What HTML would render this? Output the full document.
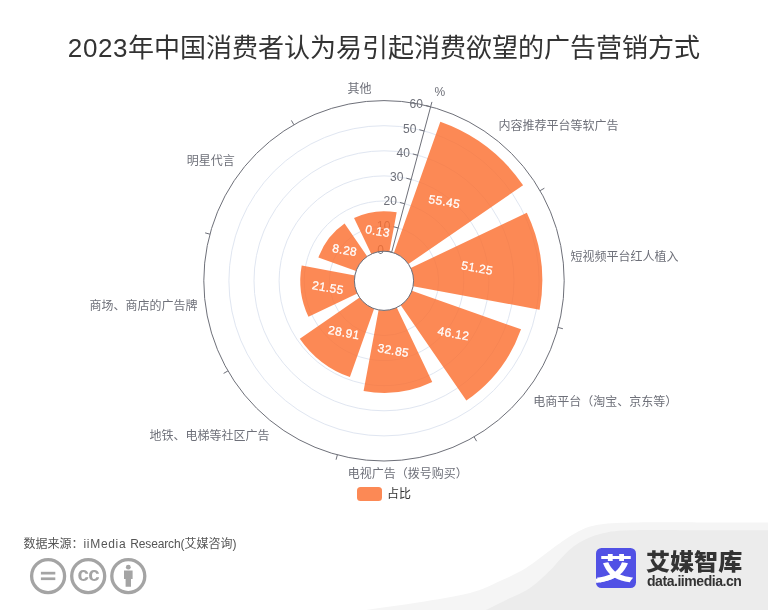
<!DOCTYPE html>
<html lang="zh-CN">
<head>
<meta charset="utf-8">
<title>2023年中国消费者认为易引起消费欲望的广告营销方式</title>
<style>
html,body{margin:0;padding:0;background:#fff;}
body{width:768px;height:610px;position:relative;overflow:hidden;font-family:"Liberation Sans","Noto Sans CJK SC",sans-serif;}
#chart{position:absolute;left:0;top:0;}
#chart text{font-family:"Liberation Sans","Noto Sans CJK SC",sans-serif;}
#wave{position:absolute;left:0;top:0;}
h1{position:absolute;left:0;top:29px;width:768px;margin:0;text-align:center;font-size:26px;line-height:38px;font-weight:400;color:#333;white-space:nowrap;}
.legend{position:absolute;left:357px;top:487px;height:14px;display:flex;align-items:center;}
.legend i{display:block;width:25px;height:14px;border-radius:3.5px;background:#FC8955;}
.legend span{margin-left:5px;font-size:12px;line-height:14px;color:#333;}
.src{position:absolute;left:23.5px;top:535px;font-size:12px;line-height:18px;color:#555;white-space:nowrap;}
.cc{position:absolute;left:28px;top:556px;}
.logo{position:absolute;left:596px;top:548px;width:40px;height:40px;}
.brand{position:absolute;left:646px;top:548px;font-size:22.6px;line-height:30px;font-weight:900;transform:scaleX(1.065);transform-origin:0 0;color:#333;white-space:nowrap;letter-spacing:0;}
.url{position:absolute;left:647px;top:572px;font-size:14px;line-height:18px;font-weight:700;color:#333;white-space:nowrap;letter-spacing:-0.45px;}
</style>
</head>
<body>
<svg id="wave" width="768" height="610" viewBox="0 0 768 610">
<path d="M310.0 618.0C319.3 616.7 348.0 612.6 366.0 610.0C384.0 607.4 400.7 605.3 418.0 602.5C435.3 599.7 456.3 596.6 470.0 593.0C483.7 589.4 490.7 585.2 500.0 581.0C509.3 576.8 517.2 573.4 526.0 568.0C534.8 562.6 543.7 554.5 552.5 548.4C561.3 542.3 570.8 535.3 578.7 531.3C586.6 527.3 590.1 526.0 600.0 524.5C609.9 523.0 621.3 522.8 638.0 522.5C654.7 522.2 689.7 522.5 700.0 522.5L768 522.5L768 622Z" fill="#f5f5f5"/>
<path d="M460.0 622.0C464.3 620.0 477.8 613.9 486.0 610.0C494.2 606.1 502.3 601.9 509.0 598.6C515.7 595.4 520.9 593.5 526.0 590.5C531.1 587.5 535.0 584.2 539.4 580.5C543.8 576.8 548.1 572.5 552.5 568.0C556.9 563.5 561.2 557.8 565.6 553.6C570.0 549.5 573.0 546.4 578.7 543.1C584.4 539.8 591.6 536.1 600.0 534.0C608.4 531.9 612.3 530.8 629.0 530.2C645.7 529.6 688.2 530.2 700.0 530.2L768 530.2L768 622Z" fill="#ececec"/>
</svg>
<svg id="chart" width="768" height="610" viewBox="0 0 768 610">
<g fill="none" stroke="#E0E6F1" stroke-width="1">
<circle cx="384" cy="280.8" r="29.6"/>
<circle cx="384" cy="280.8" r="54.7"/>
<circle cx="384" cy="280.8" r="79.8"/>
<circle cx="384" cy="280.8" r="104.9"/>
<circle cx="384" cy="280.8" r="130"/>
<circle cx="384" cy="280.8" r="155.1"/>
</g>
<g stroke="#6E7079" stroke-width="1" fill="none">
<line x1="391.66" y1="252.21" x2="430.64" y2="106.74"/>
<line x1="391.66" y1="252.21" x2="386.83" y2="250.91"/>
<line x1="398.16" y1="227.96" x2="393.33" y2="226.67"/>
<line x1="404.65" y1="203.72" x2="399.82" y2="202.43"/>
<line x1="411.15" y1="179.47" x2="406.32" y2="178.18"/>
<line x1="417.65" y1="155.23" x2="412.82" y2="153.94"/>
<line x1="424.14" y1="130.98" x2="419.31" y2="129.69"/>
<line x1="430.64" y1="106.74" x2="425.81" y2="105.45"/>
<circle cx="384" cy="280.8" r="180.2"/>
<line x1="430.64" y1="106.74" x2="431.93" y2="101.91"/>
<line x1="540.06" y1="190.7" x2="544.39" y2="188.2"/>
<line x1="558.06" y1="327.44" x2="562.89" y2="328.73"/>
<line x1="474.1" y1="436.86" x2="476.6" y2="441.19"/>
<line x1="337.36" y1="454.86" x2="336.07" y2="459.69"/>
<line x1="227.94" y1="370.9" x2="223.61" y2="373.4"/>
<line x1="209.94" y1="234.16" x2="205.11" y2="232.87"/>
<line x1="293.9" y1="124.74" x2="291.4" y2="120.41"/>
</g>
<g class="rl" fill="#6E7079" font-size="12" text-anchor="end">
<text x="383.93" y="250.14" dy="0.31em">0</text>
<text x="390.43" y="225.89" dy="0.31em">10</text>
<text x="396.93" y="201.65" dy="0.31em">20</text>
<text x="403.42" y="177.4" dy="0.31em">30</text>
<text x="409.92" y="153.16" dy="0.31em">40</text>
<text x="416.42" y="128.91" dy="0.31em">50</text>
<text x="422.91" y="104.67" dy="0.31em">60</text>
</g>
<text x="434.52" y="92.25" dy="0.28em" fill="#6E7079" font-size="12">%</text>
<g fill="#FB6F30" fill-opacity="0.82">
<path d="M393.88 252.9L440.34 121.7A168.78 168.78 0 0 1 523.1 185.2L408.39 264.03A29.6 29.6 0 0 0 393.88 252.9Z"/>
<path d="M410.72 268.06L526.82 212.68A158.24 158.24 0 0 1 539.59 309.64L413.1 286.19A29.6 29.6 0 0 0 410.72 268.06Z"/>
<path d="M411.9 290.68L521.02 329.32A145.36 145.36 0 0 1 466.33 400.6L400.77 305.19A29.6 29.6 0 0 0 411.9 290.68Z"/>
<path d="M396.74 307.52L432.24 381.94A112.05 112.05 0 0 1 363.58 390.98L378.61 309.9A29.6 29.6 0 0 0 396.74 307.52Z"/>
<path d="M374.12 308.7L349.9 377.1A102.16 102.16 0 0 1 299.8 338.67L359.61 297.57A29.6 29.6 0 0 0 374.12 308.7Z"/>
<path d="M357.28 293.54L308.46 316.83A83.69 83.69 0 0 1 301.71 265.55L354.9 275.41A29.6 29.6 0 0 0 357.28 293.54Z"/>
<path d="M356.1 270.92L318.39 257.57A69.6 69.6 0 0 1 344.58 223.44L367.23 256.41A29.6 29.6 0 0 0 356.1 270.92Z"/>
<path d="M371.26 254.08L354.04 217.98A69.6 69.6 0 0 1 396.68 212.37L389.39 251.7A29.6 29.6 0 0 0 371.26 254.08Z"/>
</g>
<circle cx="384" cy="280.8" r="29.6" fill="none" stroke="#6E7079" stroke-width="1"/>
<g fill="#fff" stroke="#fff" stroke-width="0.25" font-size="12" letter-spacing="0.35" text-anchor="middle">
<text transform="translate(444.38 202.11) rotate(10)" dy="0.3em">55.45</text>
<text transform="translate(477.12 268.54) rotate(10)" dy="0.3em">51.25</text>
<text transform="translate(453.4 334.05) rotate(10)" dy="0.3em">46.12</text>
<text transform="translate(393.24 351.02) rotate(10)" dy="0.3em">32.85</text>
<text transform="translate(343.89 333.07) rotate(10)" dy="0.3em">28.91</text>
<text transform="translate(327.84 288.19) rotate(10)" dy="0.3em">21.55</text>
<text transform="translate(344.65 250.61) rotate(10)" dy="0.3em">8.28</text>
<text transform="translate(377.53 231.62) rotate(10)" dy="0.3em">0.13</text>
</g>
<g fill="#6E7079" font-size="12">
<text x="498.57" y="125.19" dy="0.36em" text-anchor="start">内容推荐平台等软广告</text>
<text x="570.59" y="256.43" dy="0.36em" text-anchor="start">短视频平台红人植入</text>
<text x="533.31" y="402.07" dy="0.36em" text-anchor="start">电商平台（淘宝、京东等）</text>
<text x="407.77" y="474.09" dy="0.36em" text-anchor="middle">电视广告（拨号购买）</text>
<text x="269.43" y="435.81" dy="0.36em" text-anchor="end">地铁、电梯等社区广告</text>
<text x="197.41" y="305.47" dy="0.36em" text-anchor="end">商场、商店的广告牌</text>
<text x="234.69" y="160.43" dy="0.36em" text-anchor="end">明星代言</text>
<text x="359.43" y="88.51" dy="0.36em" text-anchor="middle">其他</text>
</g>
</svg>
<h1><span style="letter-spacing:0.6px">2023</span>年中国消费者认为易引起消费欲望的广告营销方式</h1>
<div class="legend"><i></i><span>占比</span></div>
<div class="src">数据来源：<span style="letter-spacing:0.68px">iiMedia </span><span style="letter-spacing:-0.15px">Research</span>(艾媒咨询)</div>
<svg class="cc" width="124" height="40" viewBox="0 0 124 40">
<g fill="none" stroke="#a4a4a4" stroke-width="3.3">
<circle cx="20.1" cy="20.1" r="16.5"/><circle cx="60.2" cy="20.1" r="16.5"/><circle cx="100.3" cy="20.1" r="16.5"/>
</g>
<g fill="#a4a4a4">
<rect x="12.9" y="15.8" width="14.4" height="2.7"/><rect x="12.9" y="21.4" width="14.4" height="2.7"/>
<text transform="translate(60.3 25.4) scale(1.06 1)" font-size="19.4" font-weight="700" text-anchor="middle" font-family="Liberation Sans, sans-serif" letter-spacing="-0.7">cc</text>
<circle cx="100.3" cy="11.2" r="2.4"/>
<path d="M96 14.4h8.6v8.7h-1.6v7.6h-5.4v-7.6h-1.6z"/>
</g>
</svg>
<svg class="logo" viewBox="0 0 40 40">
<defs><clipPath id="ca"><rect x="0" y="0" width="40" height="13.1"/></clipPath><clipPath id="cb"><rect x="0" y="14.2" width="40" height="25.8"/></clipPath></defs>
<rect x="0" y="0" width="40" height="40" rx="5.5" fill="#5151E5"/>
<g clip-path="url(#ca)"><text transform="translate(20 23.8) scale(1.1 0.7)" font-size="30" font-weight="900" fill="#fff" text-anchor="middle" font-family="Noto Sans CJK SC, sans-serif">艾</text></g>
<g clip-path="url(#cb)"><text transform="translate(19.2 31.3) scale(1.28 1.1)" font-size="30" font-weight="900" fill="#fff" text-anchor="middle" font-family="Noto Sans CJK SC, sans-serif">艾</text></g>
<path d="M18 27.4C13 30.4 7 32 0 32.9" fill="none" stroke="#fff" stroke-width="4.4"/>
</svg>
<div class="brand">艾媒智库</div>
<div class="url">data.iimedia.cn</div>
</body>
</html>
